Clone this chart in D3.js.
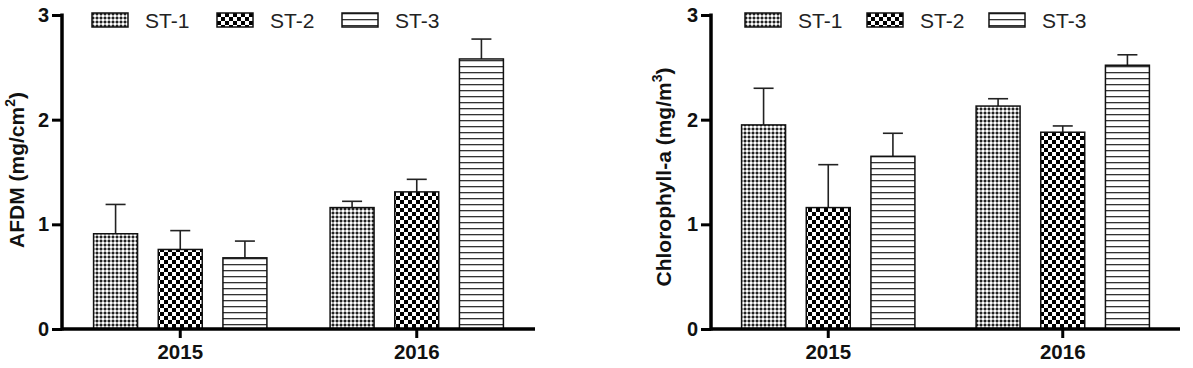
<!DOCTYPE html>
<html>
<head>
<meta charset="utf-8">
<script src="https://cdn.jsdelivr.net/npm/d3@7"></script>
<style>
  body { margin: 0; background: #fff; }
  svg { display: block; font-family: "Liberation Sans", Arial, sans-serif; }
</style>
</head>
<body>
<svg id="chart" width="1193" height="368"></svg>
<script>
// categories
const years = ["2015", "2016"];
const stations = ["ST-1", "ST-2", "ST-3"];
const yTicks = [0, 1, 2, 3];

// AFDM (mg/cm2), rows = stations, cols = years
const afdmMean = [[0.91, 1.16], [0.76, 1.31], [0.68, 2.58]];
const afdmSD = [[0.28, 0.06], [0.18, 0.12], [0.16, 0.19]];

// Chlorophyll-a (mg/m3)
const chlMean = [[1.95, 2.13], [1.16, 1.88], [1.65, 2.52]];
const chlSD = [[0.35, 0.07], [0.41, 0.06], [0.22, 0.10]];

const svg = d3.select("#chart");
const defs = svg.append("defs");

// fill patterns, one per station
const p1 = defs.append("pattern").attr("id", "pat0")
  .attr("patternUnits", "userSpaceOnUse").attr("width", 4).attr("height", 4);
p1.append("rect").attr("width", 4).attr("height", 4).attr("fill", "#fff");
p1.append("rect").attr("x", 0).attr("y", 0).attr("width", 2).attr("height", 2).attr("fill", "#222");
p1.append("rect").attr("x", 2).attr("y", 0).attr("width", 2).attr("height", 2).attr("fill", "#aaa");
p1.append("rect").attr("x", 0).attr("y", 2).attr("width", 2).attr("height", 2).attr("fill", "#aaa");

const p2 = defs.append("pattern").attr("id", "pat1")
  .attr("patternUnits", "userSpaceOnUse").attr("width", 8).attr("height", 8);
p2.append("rect").attr("width", 8).attr("height", 8).attr("fill", "#fff");
p2.append("rect").attr("x", 0).attr("y", 0).attr("width", 4).attr("height", 4).attr("fill", "#000");
p2.append("rect").attr("x", 4).attr("y", 4).attr("width", 4).attr("height", 4).attr("fill", "#000");

const p3 = defs.append("pattern").attr("id", "pat2")
  .attr("patternUnits", "userSpaceOnUse").attr("width", 8).attr("height", 6);
p3.append("rect").attr("width", 8).attr("height", 6).attr("fill", "#fff");
p3.append("rect").attr("x", 0).attr("y", 0).attr("width", 8).attr("height", 1.3).attr("fill", "#333");

function drawPanel(opt) {
  const g = svg.append("g");

  const y = d3.scaleLinear().domain([0, 3]).range([329, 15]);
  const x0 = d3.scaleBand().domain(years).range([opt.left, opt.right]);
  const x1 = d3.scaleBand().domain(stations)
    .range([-97, 97]).paddingInner(0.32).paddingOuter(0.16);

  // bars
  stations.forEach((s, si) => {
    years.forEach((yr, yi) => {
      const cx = x0(yr) + x0.bandwidth() / 2;
      const bx = cx + x1(s);
      const m = opt.mean[si][yi];
      const sd = opt.sd[si][yi];
      const mid = bx + x1.bandwidth() / 2;
      g.append("line")
        .attr("x1", mid).attr("x2", mid)
        .attr("y1", y(m)).attr("y2", y(m + sd))
        .attr("stroke", "#222").attr("stroke-width", 1.6);
      g.append("line")
        .attr("x1", mid - 10).attr("x2", mid + 10)
        .attr("y1", y(m + sd)).attr("y2", y(m + sd))
        .attr("stroke", "#222").attr("stroke-width", 1.6);
      g.append("rect")
        .attr("x", bx).attr("y", y(m))
        .attr("width", x1.bandwidth()).attr("height", y(0) - y(m))
        .attr("fill", `url(#pat${si})`)
        .attr("stroke", "#111").attr("stroke-width", 1.5);
    });
  });

  // y axis
  const yAxis = g.append("g")
    .attr("transform", `translate(${opt.left},0)`)
    .call(d3.axisLeft(y).tickValues(yTicks).tickFormat(d3.format("d"))
      .tickSize(10).tickSizeOuter(0).tickPadding(3));
  yAxis.select(".domain").attr("stroke", "#000").attr("stroke-width", 3.5)
    .attr("d", `M0,${y(3) - 1.5}V${y(0) + 1.5}`);
  yAxis.selectAll(".tick line").attr("stroke", "#000").attr("stroke-width", 3);
  yAxis.selectAll("text").attr("font-size", 20).attr("font-weight", "bold").attr("fill", "#111");

  // x axis
  const xAxis = g.append("g")
    .attr("transform", `translate(0,${y(0)})`)
    .call(d3.axisBottom(x0).tickSize(9).tickSizeOuter(0).tickPadding(6));
  xAxis.select(".domain").attr("stroke", "#000").attr("stroke-width", 3.5)
    .attr("d", `M${opt.left - 1},0H${opt.right}`);
  xAxis.selectAll(".tick line").attr("stroke", "#000").attr("stroke-width", 3);
  xAxis.selectAll("text").attr("font-size", 20.5).attr("font-weight", "bold").attr("fill", "#111");

  // y label
  const lab = g.append("text")
    .attr("transform", `translate(${opt.labelX},${opt.labelY}) rotate(-90)`)
    .attr("text-anchor", "middle")
    .attr("font-size", 21).attr("font-weight", "bold").attr("fill", "#111");
  lab.append("tspan").text(opt.label);
  lab.append("tspan").attr("font-size", 14).attr("dy", -9).text(opt.sup);
  lab.append("tspan").attr("dy", 9).text(")");

  // legend
  const leg = g.append("g").attr("transform", `translate(${opt.legX},13)`);
  stations.forEach((s, i) => {
    const it = leg.append("g").attr("transform", `translate(${i * opt.legStep},0)`);
    it.append("rect").attr("width", 36).attr("height", 14)
      .attr("fill", `url(#pat${i})`).attr("stroke", "#111").attr("stroke-width", 1.5);
    it.append("text").attr("x", 53).attr("y", 14.5)
      .attr("font-size", 21).attr("fill", "#222").text(s);
  });
}

drawPanel({
  left: 62, right: 535, mean: afdmMean, sd: afdmSD,
  label: "AFDM (mg/cm", sup: "2", labelX: 24, labelY: 170,
  legX: 92, legStep: 125
});

drawPanel({
  left: 711, right: 1180, mean: chlMean, sd: chlSD,
  label: "Chlorophyll-a (mg/m", sup: "3", labelX: 671, labelY: 177,
  legX: 745, legStep: 122
});
</script>
</body>
</html>
